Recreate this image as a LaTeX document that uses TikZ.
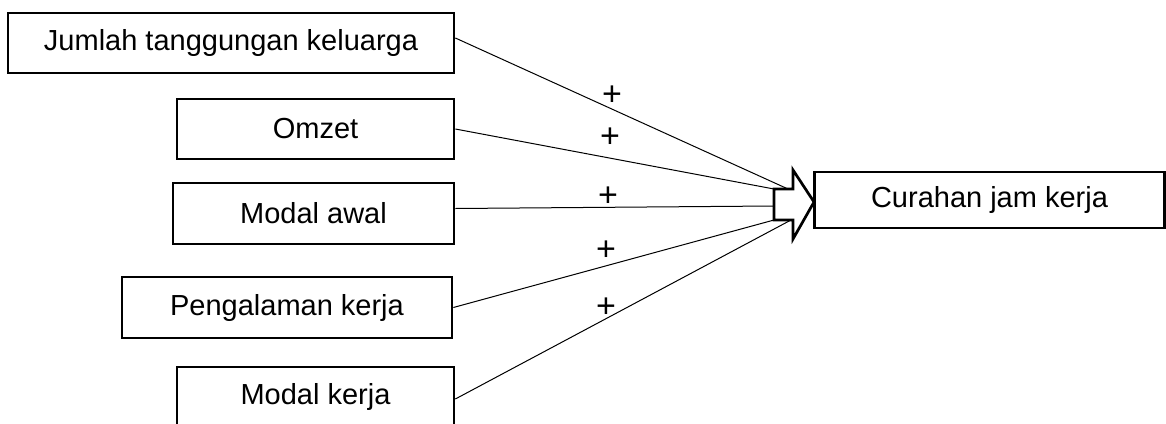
\documentclass[tikz,border=0pt]{standalone}
\usepackage{fontspec}
\setmainfont{Liberation Sans}
\begin{document}
\begin{tikzpicture}[x=1pt,y=-1pt,
  varbox/.style={draw=black, line width=2.7pt, inner sep=0pt, rectangle,
    font=\fontsize{29}{34}\selectfont, text=black},
  link/.style={line width=1pt, draw=black},
  sign/.style={inner sep=0pt, font=\fontsize{34}{40}\selectfont}]
\clip (0,0) rectangle (1166,423);
\useasboundingbox (0,0) rectangle (1166,423);
\node[varbox, minimum width=446pt, minimum height=60pt] (b1) at (231,43) {Jumlah tanggungan keluarga};
\node[varbox, minimum width=277pt, minimum height=60pt] (b2) at (315.5,129) {Omzet};
\node[varbox, minimum width=281pt, minimum height=61pt] (b3) at (313.5,213.5) {Modal awal};
\node[varbox, minimum width=330pt, minimum height=61pt] (b4) at (287,307.5) {Pengalaman kerja};
\node[varbox, minimum width=277pt, minimum height=60pt] (b5) at (315.5,397) {Modal kerja};
\node[varbox, minimum width=350pt, minimum height=56pt] (c) at (989.5,200) {Curahan jam kerja};
% block arrow
\coordinate (tl) at (774,189);
\coordinate (bl) at (774,220);
\coordinate (tr) at (793,189);
\coordinate (br) at (793,220);
\coordinate (ht) at (793,170);
\coordinate (hb) at (793,239);
\coordinate (tip) at (814,202);
\coordinate (mid) at (774,206);
\coordinate (e1) at (788,189);
\coordinate (e5) at (791,220);
\draw[line width=2.7pt, line join=miter, fill=white] (tl) -- (tr) -- (ht) -- (tip) -- (hb) -- (br) -- (bl) -- cycle;
% links
\draw[link] ([yshift=5pt]b1.east) -- (e1);
\draw[link] (b2.east) -- (tl);
\draw[link] ([yshift=5pt]b3.east) -- (mid);
\draw[link] (b4.east) -- (bl);
\draw[link] ([yshift=-2pt]b5.east) -- (e5);
% signs
\node[sign] (p1) at (612,96) {+};
\node[sign] (p2) at (610,138) {+};
\node[sign] (p3) at (608,197) {+};
\node[sign] (p4) at (606,251) {+};
\node[sign] (p5) at (606,308) {+};
\end{tikzpicture}
\end{document}
